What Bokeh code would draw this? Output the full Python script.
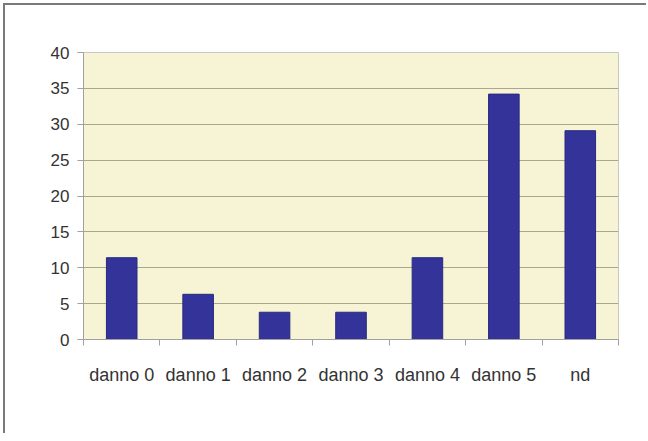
from bokeh.plotting import figure
from bokeh.models import FixedTicker, Range1d, ColumnDataSource
from bokeh.embed import file_html
from bokeh.resources import INLINE

categories = ["danno 0", "danno 1", "danno 2", "danno 3", "danno 4", "danno 5", "nd"]
values = [11.4, 6.3, 3.8, 3.8, 11.4, 34.2, 29.1]
y_ticks = [0, 5, 10, 15, 20, 25, 30, 35, 40]

centers = [i + 0.5 for i in range(len(categories))]
src = ColumnDataSource(dict(x=centers, top=values))

p = figure(width=643, height=430, output_backend="svg", toolbar_location=None,
           x_range=Range1d(0, len(categories)), y_range=Range1d(0, 40),
           frame_width=535, frame_height=287,
           min_border_left=78, min_border_top=47, min_border_right=30, min_border_bottom=96)
p.styles = {"margin-left": "5px", "margin-top": "5px",
            "box-shadow": "-2px -2px 0px 0px #7a7a7a"}

p.background_fill_color = "#f6f4d4"
p.border_fill_color = "white"
p.outline_line_color = "#c8c8c0"

p.vbar(x="x", top="top", width=0.4, source=src, fill_color="#333399", line_color="#2a2a80")

font = "Liberation Sans"
p.yaxis.ticker = FixedTicker(ticks=y_ticks)
p.yaxis.axis_line_color = "#a0a0a0"
p.yaxis.major_tick_line_color = "#a0a0a0"
p.yaxis.major_tick_in = 0
p.yaxis.major_tick_out = 6
p.yaxis.minor_tick_line_color = None
p.yaxis.major_label_text_font = font
p.yaxis.major_label_text_font_size = "17px"
p.yaxis.major_label_text_color = "#333333"
p.yaxis.major_label_standoff = 8

p.xaxis.ticker = FixedTicker(ticks=centers, minor_ticks=list(range(len(categories) + 1)))
p.xaxis.major_label_overrides = {c: lab for c, lab in zip(centers, categories)}
p.xaxis.axis_line_color = "#a0a0a0"
p.xaxis.major_tick_line_color = None
p.xaxis.minor_tick_line_color = "#a0a0a0"
p.xaxis.minor_tick_in = 0
p.xaxis.minor_tick_out = 6
p.xaxis.major_label_text_font = font
p.xaxis.major_label_text_font_size = "18px"
p.xaxis.major_label_text_color = "#333333"
p.xaxis.major_label_standoff = 19

p.xgrid.grid_line_color = None
p.ygrid.ticker = FixedTicker(ticks=y_ticks)
p.ygrid.grid_line_color = "#a8a890"
p.ygrid.grid_line_width = 1

open("out.html", "w").write(file_html(p, INLINE))
